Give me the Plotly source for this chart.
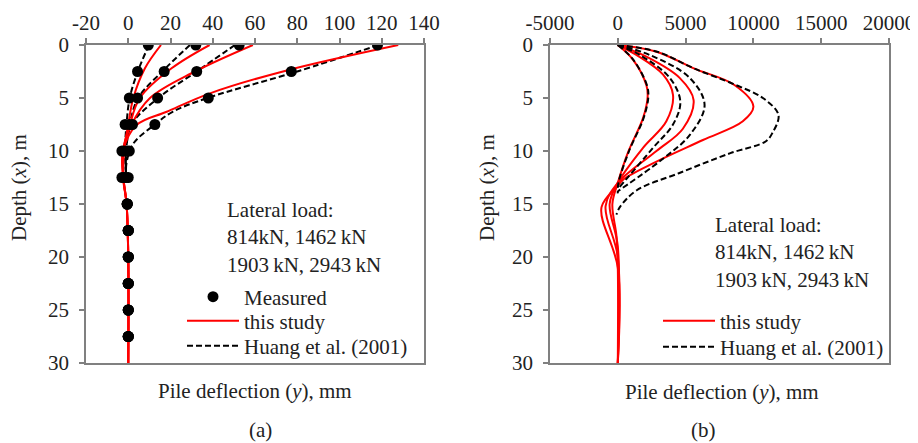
import plotly.graph_objects as go

# ---------------- (a) pile deflection data ----------------
meas_depth = [0, 2.5, 5, 7.5, 10, 12.5, 15, 17.5, 20, 22.5, 25, 27.5]
meas_814 = [9.5, 4.4, 0.5, -1.5, -3.0, -3.0, -0.5, 0, 0, 0, 0, 0]
meas_1462 = [32, 17, 4.4, 0.5, -2.0, -2.0, -0.5, 0, 0, 0, 0, 0]
meas_1903 = [52.5, 32.4, 13.9, 2.0, -0.5, -1.0, -0.5, 0, 0, 0, 0, 0]
meas_2943 = [118, 77.2, 37.9, 12.6, 0.5, 0.0, -0.5, 0, 0, 0, 0, 0]

a_study_depth_814 = [0, 2.2, 5, 7.5, 10, 12.5, 15, 20, 30]
a_study_814 = [15.5, 7.9, 2.4, 0.0, -2.0, -2.3, -0.8, 0, 0]
a_study_depth_1462 = [0, 2.2, 5, 7.5, 10, 12.5, 15, 20, 30]
a_study_1462 = [38.5, 20.5, 5.5, 0.8, -2.5, -2.3, -0.8, 0, 0]
a_study_depth_1903 = [0, 2.5, 5, 7.5, 10, 12.5, 15, 20, 30]
a_study_1903 = [59, 31.6, 10.3, 1.6, -2.5, -2.3, -0.8, 0, 0]
a_study_depth_2943 = [0, 2.4, 4.56, 6.3, 7.55, 10, 12.5, 15, 20, 30]
a_study_2943 = [127.8, 75, 38.7, 18.2, 4.0, -2.5, -2.5, -0.8, 0, 0]

a_huang_depth_814 = [0, 2.4, 4.9, 7.4, 10, 12.5]
a_huang_814 = [9.8, 4.7, 0.8, -0.8, -1.5, -1.0]
a_huang_depth_1462 = [0, 2.4, 5, 7.4, 10, 12.5]
a_huang_1462 = [29.2, 16.6, 4.7, 0.8, -1.0, -1.0]
a_huang_depth_1903 = [0, 2.5, 5, 7.5, 10, 12.5]
a_huang_1903 = [50.5, 32.4, 14.2, 1.6, -1.0, -1.0]
a_huang_depth_2943 = [0, 2.5, 5, 6.3, 7.5, 9.3, 11.1, 12.5]
a_huang_2943 = [118.5, 80, 37.5, 21, 12.6, 2.4, -0.8, -1.0]

# ---------------- (b) data ----------------
b_study_depth_814 = [0, 1.4, 3.8, 4.9, 6.9, 10.1, 13, 15, 18, 21, 30]
b_study_814 = [0, 1130, 2110, 2200, 1860, 760, 0, -400, -100, 0, 0]
b_study_depth_1462 = [0, 0.94, 2.8, 4.7, 7.2, 9.7, 13, 15, 19, 30]
b_study_1462 = [0, 1370, 3340, 4070, 3580, 1860, 0, -600, 0, 0]
b_study_depth_1903 = [0, 1.1, 3.1, 5.2, 7.9, 10, 13, 15.2, 20, 30]
b_study_1903 = [0, 2110, 4560, 5590, 4800, 2850, 0, -900, 0, 0]
b_study_depth_2943 = [0, 0.63, 2.2, 3.77, 5.8, 7.2, 8.96, 11.0, 12.7, 13.3, 15.3, 21, 30]
b_study_2943 = [0, 2850, 5600, 8600, 10000, 9220, 6280, 2850, 390, 0, -1200, 0, 0]

b_huang_depth_814 = [0, 1.4, 3.8, 4.9, 6.9, 10.1, 13, 14]
b_huang_814 = [0, 1150, 2150, 2250, 1900, 800, 50, 0]
b_huang_depth_1462 = [0, 0.94, 3.1, 5.35, 7.5, 9.7, 13.6]
b_huang_1462 = [0, 1620, 3830, 4610, 4070, 2600, 0]
b_huang_depth_1903 = [0, 0.94, 3.1, 5.66, 8.5, 10.85, 13.8]
b_huang_1903 = [0, 2350, 5300, 6400, 5300, 3210, 0]
b_huang_depth_2943 = [0, 0.63, 2.2, 3.77, 5.0, 6.6, 8.3, 9.1, 10.2, 12.1, 13.7, 15.3, 16]
b_huang_2943 = [0, 2900, 5600, 8700, 10700, 11850, 11400, 10900, 8300, 4500, 1400, 150, -100]

x_ticks_a = [-20, 0, 20, 40, 60, 80, 100, 120, 140]
x_labels_a = ["-20", "0", "20", "40", "60", "80", "100", "120", "140"]
x_ticks_b = [-5000, 0, 5000, 10000, 15000, 20000]
x_labels_b = ["-5000", "0", "5000", "10000", "15000", "20000"]
y_ticks = [0, 5, 10, 15, 20, 25, 30]

FONT = "Liberation Serif"
RED = "#ff0000"
TXT = "#222222"
AX = "#808080"
DASH = "6px,3px"

fig = go.Figure()

a_study = [(a_study_depth_814, a_study_814), (a_study_depth_1462, a_study_1462),
           (a_study_depth_1903, a_study_1903), (a_study_depth_2943, a_study_2943)]
a_huang = [(a_huang_depth_814, a_huang_814), (a_huang_depth_1462, a_huang_1462),
           (a_huang_depth_1903, a_huang_1903), (a_huang_depth_2943, a_huang_2943)]
a_meas = [meas_814, meas_1462, meas_1903, meas_2943]

for i, (d, v) in enumerate(a_huang):
    fig.add_trace(go.Scatter(x=v, y=d, mode="lines", line=dict(color="black", width=2, dash=DASH),
                             line_shape="spline", name="Huang et al. (2001)", legend="legend3",
                             showlegend=(i == 0), xaxis="x", yaxis="y"))
for i, (d, v) in enumerate(a_study):
    fig.add_trace(go.Scatter(x=v, y=d, mode="lines", line=dict(color=RED, width=2),
                             line_shape="spline", name="this study", legend="legend2",
                             showlegend=(i == 0), xaxis="x", yaxis="y"))
for i, v in enumerate(a_meas):
    fig.add_trace(go.Scatter(x=v, y=meas_depth, mode="markers", marker=dict(color="black", size=11),
                             name="Measured", legend="legend", showlegend=(i == 0),
                             xaxis="x", yaxis="y"))

b_study = [(b_study_depth_814, b_study_814), (b_study_depth_1462, b_study_1462),
           (b_study_depth_1903, b_study_1903), (b_study_depth_2943, b_study_2943)]
b_huang = [(b_huang_depth_814, b_huang_814), (b_huang_depth_1462, b_huang_1462),
           (b_huang_depth_1903, b_huang_1903), (b_huang_depth_2943, b_huang_2943)]

for i, (d, v) in enumerate(b_study):
    fig.add_trace(go.Scatter(x=v, y=d, mode="lines", line=dict(color=RED, width=2),
                             line_shape="spline", name="this study", legend="legend4",
                             showlegend=(i == 0), xaxis="x2", yaxis="y2"))
for i, (d, v) in enumerate(b_huang):
    fig.add_trace(go.Scatter(x=v, y=d, mode="lines", line=dict(color="black", width=2, dash=DASH),
                             line_shape="spline", name="Huang et al. (2001)", legend="legend5",
                             showlegend=(i == 0), xaxis="x2", yaxis="y2"))

# page has an 8px body margin: figure is 910x435 placed at (8, 8)
W, H, OFF = 910, 435, 8
def px(x):
    return (x - OFF) / W
def py(y):
    return 1 - (y - OFF) / H

axis_common = dict(showline=True, linecolor=AX, linewidth=1.5, mirror=True, ticks="outside",
                   ticklen=5, tickcolor=AX, tickwidth=1.5, showgrid=False, zeroline=False,
                   automargin=False, tickfont=dict(family=FONT, size=21, color=TXT))

def leg(x, y):
    return dict(x=px(x), y=py(y), xanchor="left", yanchor="middle", bgcolor="rgba(0,0,0,0)",
                font=dict(family=FONT, size=21, color=TXT), itemwidth=52, tracegroupgap=0)

fig.update_layout(
    width=W, height=H, margin=dict(l=0, r=0, t=0, b=0, autoexpand=False),
    paper_bgcolor="white", plot_bgcolor="white",
    font=dict(family=FONT, size=21, color=TXT),
    xaxis=dict(domain=[px(86), px(424)], range=[-20, 140], tickvals=x_ticks_a, ticktext=x_labels_a,
               side="top", anchor="y", **axis_common),
    yaxis=dict(domain=[py(363), py(45)], range=[30, 0], tickvals=y_ticks, anchor="x",
               ticklabelstandoff=6, **axis_common),
    xaxis2=dict(domain=[px(550), px(889)], range=[-5000, 20000], tickvals=x_ticks_b,
                ticktext=x_labels_b, side="top", anchor="y2", **axis_common),
    yaxis2=dict(domain=[py(363), py(45)], range=[30, 0], tickvals=y_ticks, anchor="x2",
                ticklabelstandoff=6, **axis_common),
    legend=leg(182, 297),
    legend2=leg(182, 321),
    legend3=leg(182, 346),
    legend4=leg(658, 321),
    legend5=leg(658, 347),
)

ann = dict(showarrow=False, xref="paper", yref="paper", font=dict(family=FONT, size=21, color=TXT))
fig.add_annotation(x=px(225), y=py(237), xanchor="left", yanchor="middle", align="left",
                   text="Lateral load:<br>814kN, 1462\u2009kN<br>1903\u2009kN, 2943\u2009kN", **ann)
fig.add_annotation(x=px(713), y=py(252), xanchor="left", yanchor="middle", align="left",
                   text="Lateral load:<br>814kN, 1462\u2009kN<br>1903\u2009kN, 2943\u2009kN", **ann)
fig.add_annotation(x=px(255), y=py(391), xanchor="center", yanchor="middle",
                   text="Pile deflection (<i>y</i>), mm", **ann)
fig.add_annotation(x=px(722), y=py(392), xanchor="center", yanchor="middle",
                   text="Pile deflection (<i>y</i>), mm", **ann)
fig.add_annotation(x=px(260), y=py(430), xanchor="center", yanchor="middle", text="(a)", **ann)
fig.add_annotation(x=px(703), y=py(430), xanchor="center", yanchor="middle", text="(b)", **ann)
fig.add_annotation(x=px(19), y=py(188), xanchor="center", yanchor="middle", textangle=-90,
                   text="Depth (<i>x</i>), m", **ann)
fig.add_annotation(x=px(487), y=py(188), xanchor="center", yanchor="middle", textangle=-90,
                   text="Depth (<i>x</i>), m", **ann)

fig.write_html("out.html")
